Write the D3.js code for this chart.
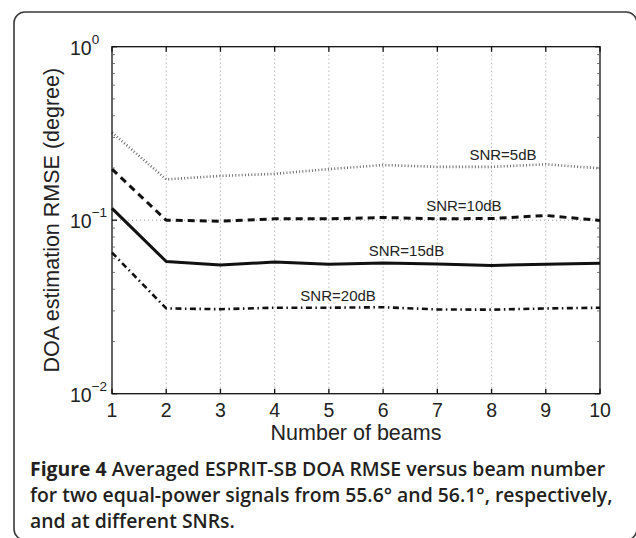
<!DOCTYPE html>
<html><head><meta charset="utf-8">
<script src="https://cdn.jsdelivr.net/npm/d3@7"></script>
<style>
html,body{margin:0;padding:0;background:#fff;}
svg{display:block;}
</style></head>
<body>
<svg id="chart" width="636" height="538"></svg>
<script>
// ---- data ----
const beams = [1, 2, 3, 4, 5, 6, 7, 8, 9, 10];
const snr5  = [0.32, 0.172, 0.180, 0.185, 0.197, 0.208, 0.203, 0.203, 0.210, 0.199];
const snr10 = [0.197, 0.100, 0.0987, 0.1018, 0.1018, 0.1036, 0.102, 0.1022, 0.1065, 0.0996];
const snr15 = [0.117, 0.0578, 0.0551, 0.0574, 0.0557, 0.0567, 0.056, 0.0548, 0.0558, 0.0564];
const snr20 = [0.065, 0.031, 0.0307, 0.0313, 0.0313, 0.0315, 0.0306, 0.0305, 0.031, 0.0313];
const seriesNames = ["SNR=5dB", "SNR=10dB", "SNR=15dB", "SNR=20dB"];
const labelBeam = [8.21, 7.49, 6.43, 5.17];
const labelRmse = [0.222, 0.113, 0.062, 0.0342];
const xTicks = [1, 2, 3, 4, 5, 6, 7, 8, 9, 10];
const yTickExp = [0, -1, -2];
const captionLines = [
  ["Figure 4", " Averaged ESPRIT-SB DOA RMSE versus beam number"],
  ["", "for two equal-power signals from 55.6° and 56.1°, respectively,"],
  ["", "and at different SNRs."]
];
const xLabel = "Number of beams";
const yLabel = "DOA estimation RMSE (degree)";

// ---- layout ----
const svg = d3.select("#chart");
const L = 112, R = 600, T = 46.7, B = 393.7;
const x = d3.scaleLinear().domain([1, 10]).range([L, R]);
const y = d3.scaleLog().domain([0.01, 1]).range([B, T]);
const axisFont = "'Liberation Sans', Arial, Helvetica, sans-serif";

// frame
svg.append("rect").attr("x", 14).attr("y", 12).attr("width", 623).attr("height", 528)
  .attr("rx", 11).attr("ry", 11).attr("fill", "none").attr("stroke", "#3a3a3a").attr("stroke-width", 1.6);

// grid
const grid = svg.append("g").attr("stroke", "#9a9a9a").attr("stroke-width", 1).attr("stroke-dasharray", "1,3");
grid.selectAll("line.v").data(xTicks.slice(1, -1)).join("line")
  .attr("x1", d => x(d)).attr("x2", d => x(d)).attr("y1", T).attr("y2", B);
grid.selectAll("line.h").data(yTickExp.slice(1, -1)).join("line")
  .attr("x1", L).attr("x2", R).attr("y1", d => y(Math.pow(10, d))).attr("y2", d => y(Math.pow(10, d)));

// lines
const allSeries = [snr5, snr10, snr15, snr20];
const styles = [
  {stroke: "#6e6e6e", width: 2.6, dash: "1,2.2"},
  {stroke: "#111", width: 3, dash: "7,5"},
  {stroke: "#111", width: 3, dash: null},
  {stroke: "#111", width: 2.6, dash: "6,3.5,1.5,3.5"}
];
const line = d3.line().x((d, i) => x(beams[i])).y(d => y(d));
allSeries.forEach((s, k) => {
  const p = svg.append("path").datum(s).attr("d", line).attr("fill", "none")
    .attr("stroke", styles[k].stroke).attr("stroke-width", styles[k].width)
    .attr("stroke-linejoin", "round");
  if (styles[k].dash) p.attr("stroke-dasharray", styles[k].dash);
});

// series labels
svg.append("g").selectAll("text").data(seriesNames).join("text")
  .attr("x", (d, i) => x(labelBeam[i])).attr("y", (d, i) => y(labelRmse[i]))
  .attr("text-anchor", "middle").attr("font-family", axisFont).attr("font-size", 15)
  .attr("fill", "#222").text(d => d);

// axes box
const ax = svg.append("g").attr("stroke", "#111").attr("stroke-width", 1.3).attr("fill", "none");
ax.append("rect").attr("x", L).attr("y", T).attr("width", R - L).attr("height", B - T);
xTicks.forEach(t => {
  ax.append("line").attr("x1", x(t)).attr("x2", x(t)).attr("y1", B).attr("y2", B - 5);
  ax.append("line").attr("x1", x(t)).attr("x2", x(t)).attr("y1", T).attr("y2", T + 5);
});
yTickExp.forEach(e => {
  const yy = y(Math.pow(10, e));
  ax.append("line").attr("x1", L).attr("x2", L + 5).attr("y1", yy).attr("y2", yy);
  ax.append("line").attr("x1", R).attr("x2", R - 5).attr("y1", yy).attr("y2", yy);
});
const minor = [];
[-2, -1].forEach(e => { for (let m = 2; m <= 9; m++) minor.push(m * Math.pow(10, e)); });
const axm = svg.append("g").attr("stroke", "#555").attr("stroke-width", 0.8);
minor.forEach(v => {
  axm.append("line").attr("x1", L).attr("x2", L + 3).attr("y1", y(v)).attr("y2", y(v));
  axm.append("line").attr("x1", R).attr("x2", R - 3).attr("y1", y(v)).attr("y2", y(v));
});

// x tick labels
svg.append("g").selectAll("text").data(xTicks).join("text")
  .attr("x", d => x(d)).attr("y", B + 23.5).attr("text-anchor", "middle")
  .attr("font-family", axisFont).attr("font-size", 19.5).attr("fill", "#222").text(d => d);

// y tick labels: 10^e
yTickExp.forEach(e => {
  const yy = y(Math.pow(10, e));
  const t = svg.append("text").attr("x", 70).attr("y", yy + 8)
    .attr("font-family", axisFont).attr("font-size", 19.5).attr("fill", "#222");
  t.append("tspan").text("10");
  t.append("tspan").attr("dy", -11).attr("font-size", 13.5).text(e === 0 ? "0" : "\u2212" + (-e));
});

// axis labels
svg.append("text").attr("x", (L + R) / 2).attr("y", 440).attr("text-anchor", "middle")
  .attr("font-family", axisFont).attr("font-size", 21.5).attr("fill", "#222").text(xLabel);
svg.append("text").attr("transform", `translate(59,${(T + B) / 2}) rotate(-90)`)
  .attr("text-anchor", "middle").attr("font-family", axisFont).attr("font-size", 21.5)
  .attr("fill", "#222").text(yLabel);

// caption
const capBase = [475.5, 502, 528];
captionLines.forEach((ln, i) => {
  const t = svg.append("text").attr("x", 30).attr("y", capBase[i])
    .attr("font-family", "'Open Sans', 'Noto Sans', sans-serif").attr("font-size", 19.4)
    .attr("fill", "#231f20");
  if (ln[0]) t.append("tspan").attr("font-weight", 700).text(ln[0]);
  t.append("tspan").attr("font-weight", 600).text(ln[1]);
});
</script>
</body></html>
